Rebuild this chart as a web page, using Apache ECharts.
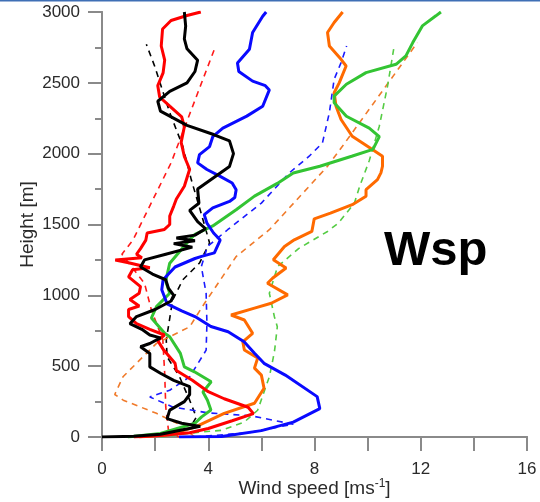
<!DOCTYPE html>
<html>
<head>
<meta charset="utf-8">
<script src="https://cdn.jsdelivr.net/npm/echarts@6/dist/echarts.min.js"></script>
<style>
html,body{margin:0;padding:0;background:#fff;}
#c{width:540px;height:502px;}
</style>
</head>
<body>
<div id="c"></div>
<script>
// Wind speed profiles: [speed (m/s), height (m)]
const blackSolid = [[0,0],[1.2,5],[2.2,20],[3.0,50],[3.7,75],[3.0,97],[2.45,130],[2.55,190],[3.1,250],[3.3,300],[3.3,355],[2.7,400],[2.2,450],[1.8,495],[1.8,590],[1.45,637],[1.8,660],[2.2,700],[1.8,720],[1.5,760],[1.05,800],[1.3,850],[2.0,900],[2.6,960],[2.7,1000],[2.5,1050],[2.4,1110],[1.9,1150],[1.45,1200],[1.6,1250],[2.4,1290],[3.4,1340],[2.7,1365],[3.5,1385],[2.8,1405],[3.5,1425],[3.9,1470],[3.6,1520],[3.3,1600],[3.65,1650],[3.6,1750],[4.2,1830],[4.8,1910],[4.95,2000],[4.8,2090],[4.2,2135],[3.2,2200],[2.2,2300],[2.1,2370],[2.55,2440],[3.2,2500],[3.5,2580],[3.6,2660],[3.2,2740],[3.1,2810],[3.15,2900],[3.1,3000]];
const redSolid = [[1.2,0],[2.2,10],[3.3,30],[4.0,60],[4.9,115],[5.7,165],[5.5,210],[4.6,270],[4.0,320],[3.4,400],[2.8,470],[2.75,520],[2.3,620],[2.1,680],[2.35,720],[1.8,760],[1.3,800],[1.0,850],[1.0,900],[1.4,925],[1.05,970],[1.4,1015],[1.45,1062],[1.0,1130],[1.15,1180],[1.8,1195],[1.0,1230],[0.5,1250],[1.5,1265],[1.3,1290],[1.45,1330],[1.65,1390],[1.7,1440],[2.35,1465],[2.55,1500],[2.55,1560],[2.7,1630],[2.8,1680],[3.1,1770],[3.3,1890],[3.1,1980],[2.98,2080],[3.1,2190],[3.0,2260],[2.55,2335],[2.17,2400],[2.1,2480],[2.3,2570],[2.36,2660],[2.23,2760],[2.28,2880],[2.6,2940],[3.2,2975],[3.72,3000]];
const blueSolid = [[2.9,0],[4.5,3],[6.0,45],[7.2,105],[8.2,200],[8.1,285],[6.9,437],[6.1,520],[5.75,590],[5.35,672],[4.75,743],[4.1,780],[3.5,850],[3.0,890],[2.45,940],[2.25,1040],[2.3,1110],[2.75,1200],[3.5,1260],[3.75,1275],[4.23,1300],[4.45,1390],[4.2,1440],[3.95,1510],[3.85,1570],[4.17,1617],[4.8,1663],[5.0,1690],[5.05,1746],[4.9,1793],[4.45,1840],[3.95,1888],[3.6,1935],[3.67,1993],[4.05,2050],[4.17,2120],[4.55,2180],[5.45,2265],[6.05,2335],[6.3,2450],[6.15,2480],[5.67,2512],[5.15,2580],[5.1,2640],[5.55,2737],[5.67,2855],[6.05,2970],[6.18,3000]];
const greenSolid = [[0.97,0],[2.2,25],[3.5,97],[3.75,142],[4.1,190],[3.97,260],[3.8,318],[4.11,390],[3.48,460],[3.1,495],[2.95,590],[2.55,708],[2.36,732],[1.86,840],[2.05,920],[2.55,1015],[2.4,1100],[2.55,1227],[3.3,1392],[3.5,1430],[4.17,1490],[5.05,1604],[5.74,1700],[6.6,1790],[7.2,1864],[8.2,1911],[9.4,1982],[10.2,2030],[10.44,2120],[10.06,2180],[9.2,2264],[8.74,2360],[8.74,2406],[9.2,2490],[9.94,2572],[11.07,2631],[11.44,2690],[11.7,2784],[12.06,2902],[12.57,2973],[12.76,3000]];
const orangeSolid = [[1.4,0],[2.5,15],[3.5,70],[4.6,167],[5.74,238],[6.1,344],[6.0,437],[5.74,486],[5.86,557],[5.36,614],[5.3,672],[5.67,732],[5.36,826],[4.86,861],[5.74,910],[6.37,944],[6.99,1003],[6.23,1085],[6.43,1122],[6.93,1193],[6.45,1251],[6.87,1345],[7.24,1392],[7.9,1451],[7.99,1540],[8.6,1580],[9.42,1640],[9.94,1700],[9.94,1746],[10.37,1817],[10.5,1864],[10.56,1911],[10.56,1982],[10.18,2029],[9.42,2123],[9.0,2241],[8.81,2335],[8.74,2430],[8.93,2500],[9.19,2619],[9.0,2666],[8.56,2760],[8.49,2855],[8.74,2926],[9.06,3000]];
const blackDashed = [[1.5,0],[2.5,25],[3.3,60],[3.55,140],[3.3,260],[2.92,425],[2.45,566],[2.42,685],[2.66,967],[3.04,1109],[3.67,1228],[4.05,1370],[3.7,1600],[3.36,1817],[3.04,2052],[2.55,2290],[1.98,2619],[1.67,2772]];
const redDashed = [[2.9,0],[2.5,50],[2.4,212],[2.36,449],[2.29,685],[1.86,897],[1.6,1085],[0.75,1290],[1.17,1392],[2.6,1935],[4.27,2756]];
const blueDashed = [[3.5,0],[5.5,30],[7.2,90],[5.6,150],[4.0,170],[2.66,212],[1.8,283],[2.55,330],[3.3,425],[3.92,613],[3.95,800],[3.92,1015],[3.74,1203],[3.97,1345],[4.73,1463],[6.0,1651],[7.05,1864],[7.8,1982],[8.3,2076],[8.56,2290],[8.74,2525],[9.0,2643],[9.21,2760]];
const orangeDashed = [[3.5,0],[2.9,90],[2.05,167],[0.8,260],[0.48,300],[0.79,425],[2.05,661],[3.3,778],[3.86,944],[5.05,1274],[6.3,1463],[8.49,1911],[9.05,2052],[10.69,2477],[11.87,2784]];
const greenDashed = [[2.2,0],[3.7,35],[4.5,47],[5.36,106],[5.86,189],[6.3,425],[6.43,543],[6.5,614],[6.6,778],[6.49,849],[6.3,1015],[6.61,1203],[7.4,1330],[8.49,1451],[8.9,1510],[9.5,1650],[9.7,1769],[10.06,1950],[10.44,2194],[10.75,2477],[11.0,2760]];
const xTicks = [0,4,8,12,16];
const yTicks = [0,500,1000,1500,2000,2500,3000];
const panelLabel = 'Wsp';

const FONT = '"Liberation Sans", Arial, sans-serif';
const AX = '#8a8a8a';
const chart = echarts.init(document.getElementById('c'), null, {renderer:'canvas'});

function dashed(name, data, color){
  return {name, type:'line', data, showSymbol:false, symbol:'none', animation:false,
    lineStyle:{color, width:1.6, type:[6,5]}, z:2};
}
function solid(name, data, color){
  return {name, type:'line', data, showSymbol:false, symbol:'none', animation:false,
    lineStyle:{color, width:3}, z:3};
}

chart.setOption({
  animation:false,
  backgroundColor:'#fff',
  grid:{left:102, right:13, top:12, bottom:65, containLabel:false, outerBoundsMode:'none'},
  xAxis:[{
    type:'value', min:xTicks[0], max:xTicks[xTicks.length-1], interval:4, position:'bottom',
    name:'Wind speed [ms{sup|-1}]', nameLocation:'middle', nameGap:41, nameMoveOverlap:false,
    nameTextStyle:{fontFamily:FONT, fontSize:19, color:'#2a2a2a',
      rich:{sup:{fontFamily:FONT, fontSize:12, color:'#2a2a2a', verticalAlign:'top', padding:[0,0,10,0]}}},
    axisLine:{show:true, lineStyle:{color:AX, width:2}},
    axisTick:{show:true, inside:false, length:14, lineStyle:{color:AX, width:2}},
    minorTick:{show:true, splitNumber:2, length:7, lineStyle:{color:AX, width:2}},
    splitLine:{show:false},
    axisLabel:{fontFamily:FONT, fontSize:17, color:'#2a2a2a', margin:24, formatter:v=>String(v)}
  },{
    type:'value', min:0, max:16, interval:2, position:'top',
    axisLine:{show:true, lineStyle:{color:AX, width:2}},
    axisTick:{show:true, inside:true, length:14, lineStyle:{color:AX, width:2}},
    axisLabel:{show:false}, splitLine:{show:false}
  }],
  yAxis:[{
    type:'value', min:yTicks[0], max:yTicks[yTicks.length-1], interval:500, position:'left',
    name:'Height [m]', nameLocation:'middle', nameGap:65, nameRotate:90, nameMoveOverlap:false,
    nameTextStyle:{fontFamily:FONT, fontSize:19, color:'#2a2a2a'},
    axisLine:{show:true, lineStyle:{color:AX, width:2}},
    axisTick:{show:true, inside:false, length:14, lineStyle:{color:AX, width:2}},
    minorTick:{show:true, splitNumber:2, length:7, lineStyle:{color:AX, width:2}},
    splitLine:{show:false},
    axisLabel:{fontFamily:FONT, fontSize:17, color:'#2a2a2a', margin:22, formatter:v=>String(v)}
  },{
    type:'value', min:0, max:3000, interval:250, position:'right',
    axisLine:{show:true, lineStyle:{color:AX, width:2}},
    axisTick:{show:true, inside:true, length:7, lineStyle:{color:AX, width:2}},
    axisLabel:{show:false}, splitLine:{show:false}
  }],
  graphic:[
    {type:'rect', shape:{x:0,y:0,width:540,height:1.5}, style:{fill:'#3f6fb5'}, z:100},
    {type:'text', left:384, top:227, style:{text:panelLabel, font:'bold 49px "Liberation Sans", Arial, sans-serif', fill:'#000'}, z:100}
  ],
  series:[
    dashed('black dashed', blackDashed, '#000000'),
    dashed('red dashed', redDashed, '#ff1a1a'),
    dashed('blue dashed', blueDashed, '#1a1aff'),
    dashed('orange dashed', orangeDashed, '#f07a2a'),
    dashed('green dashed', greenDashed, '#55cc44'),
    solid('orange', orangeSolid, '#ff6a00'),
    solid('green', greenSolid, '#33c433'),
    solid('blue', blueSolid, '#0a0aff'),
    solid('red', redSolid, '#ff0000'),
    solid('black', blackSolid, '#000000')
  ]
});
</script>
</body>
</html>
